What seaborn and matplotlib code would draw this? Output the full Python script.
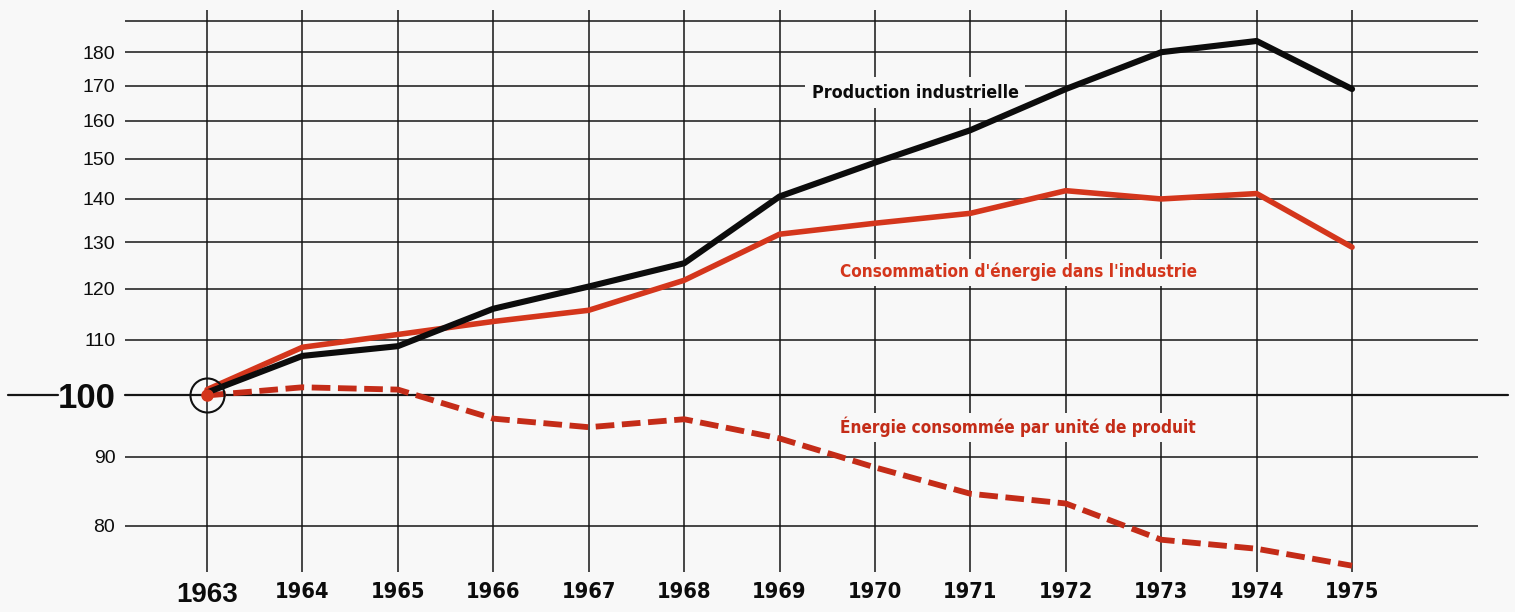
import numpy as np
import pandas as pd
import matplotlib
matplotlib.use("Agg")
import matplotlib.pyplot as plt
import matplotlib.transforms as mtransforms
from matplotlib import font_manager as fm
import seaborn as sns

years = [1963, 1964, 1965, 1966, 1967, 1968, 1969, 1970, 1971, 1972, 1973, 1974, 1975]
production = [100.5, 107.0, 108.8, 116.0, 120.5, 125.4, 140.6, 149.0, 157.5, 169.0, 180.0, 183.5, 169.0]
consommation = [101.0, 108.6, 111.0, 113.5, 115.7, 121.8, 131.8, 134.3, 136.6, 142.0, 140.0, 141.3, 128.9]
energie_unite = [100.0, 101.4, 101.0, 96.1, 94.7, 96.0, 92.9, 88.4, 84.5, 83.1, 78.1, 76.9, 74.7]
ytick_values = [80, 90, 100, 110, 120, 130, 140, 150, 160, 170, 180, 190]
ytick_labels = ["80", "90", "100", "110", "120", "130", "140", "150", "160", "170", "180", ""]
xtick_labels = [str(y) for y in years]
label_prod = "Production industrielle"
label_cons = "Consommation d'énergie dans l'industrie"
label_unit = "Énergie consommée par unité de produit"

df = pd.DataFrame({"year": years, "prod": production, "cons": consommation, "unit": energie_unite})

sns.set_style("white")
plt.rcParams['font.family'] = ['Liberation Sans', 'DejaVu Sans']

# choose a condensed family if one is installed
fonts = fm.fontManager.ttflist
names = {f.name for f in fonts}
if "Liberation Sans Narrow" in names:
    cond_props = dict(family=['Liberation Sans Narrow', 'DejaVu Sans'])
    scale = 1.0
elif any(f.name == "DejaVu Sans" and str(f.stretch) in ("condensed", "semi-condensed", "412", "500") for f in fonts):
    cond_props = dict(family=['DejaVu Sans'], fontstretch="condensed")
    scale = 0.95
else:
    cond_props = dict(family=['Liberation Sans', 'DejaVu Sans'])
    scale = 0.86

INK = "#0c0c0c"
RED = "#d4361c"
RED2 = "#c42c18"
BG = "#f8f8f8"

fig = plt.figure(figsize=(15.15, 6.12), dpi=100, facecolor=BG)
ax = fig.add_axes([125 / 1515, 1 - 572 / 612, 1353 / 1515, 562 / 612])
ax.set_facecolor(BG)
ax.set_yscale("log")
ax.set_xlim(1962.14, 1976.32)
ax.set_ylim(73.9, 193.5)

ax.set_yticks(ytick_values)
ax.set_yticklabels(ytick_labels)
ax.yaxis.set_minor_locator(matplotlib.ticker.NullLocator())
ax.set_xticks(years)
ax.set_xticklabels(xtick_labels)
for s in ax.spines.values():
    s.set_visible(False)
ax.tick_params(axis="both", length=0, labelcolor=INK)
ax.tick_params(axis="y", pad=7, labelsize=14)
ax.tick_params(axis="x", pad=7)
ax.grid(True, which="major", color="#151515", lw=1.1)
ax.set_axisbelow(True)

xl = ax.get_xticklabels()
for t in xl[1:]:
    t.set_fontfamily(cond_props["family"])
    if "fontstretch" in cond_props:
        t.set_fontstretch(cond_props["fontstretch"])
    t.set_fontweight("bold")
    t.set_fontsize(16.5 * scale)
xl[0].set_fontfamily(['Liberation Sans', 'DejaVu Sans'])
xl[0].set_fontweight("bold")
xl[0].set_fontsize(20)
for t in ax.get_yticklabels():
    if t.get_text() == "100":
        t.set_fontsize(25)
        t.set_fontweight("bold")

# the 100 reference line, extended
trans = mtransforms.blended_transform_factory(fig.transFigure, ax.transData)
ax.plot([125 / 1515, 1508 / 1515], [100, 100], transform=trans, color="#151515", lw=1.6, clip_on=False, zorder=1)
ax.plot([8 / 1515, 58 / 1515], [100, 100], transform=trans, color="#151515", lw=1.6, clip_on=False, zorder=1)

sns.lineplot(data=df, x="year", y="unit", ax=ax, color=RED2, lw=4.2, linestyle=(0, (3.2, 1.3)), zorder=3)
sns.lineplot(data=df, x="year", y="cons", ax=ax, color=RED, lw=4.0, zorder=4)
sns.lineplot(data=df, x="year", y="prod", ax=ax, color=INK, lw=4.4, zorder=5)
ax.set_xlabel("")
ax.set_ylabel("")

# origin marker
ax.plot([years[0]], [100], marker="o", ms=24.5, mfc="none", mec="#111111", mew=1.5, zorder=6, clip_on=False)
ax.plot([years[0]], [100], marker="o", ms=8, mfc=RED, mec=RED, zorder=7)

extra = {"fontstretch": cond_props["fontstretch"]} if "fontstretch" in cond_props else {}
ax.text(1970.42, 168.0, label_prod, ha="center", va="center", fontsize=13.5 * scale, fontweight="bold",
        family=cond_props["family"], color=INK, bbox=dict(facecolor=BG, edgecolor="none", pad=5),
        zorder=2, **extra)
ax.text(1971.5, 123.5, label_cons, ha="center", va="center", fontsize=13 * scale, fontweight="bold",
        family=cond_props["family"], color=RED, bbox=dict(facecolor=BG, edgecolor="none", pad=3),
        zorder=2, **extra)
ax.text(1971.5, 94.7, label_unit, ha="center", va="center", fontsize=13 * scale, fontweight="bold",
        family=cond_props["family"], color=RED2, bbox=dict(facecolor=BG, edgecolor="none", pad=3),
        zorder=2, **extra)

fig.savefig("out.png", dpi=100, facecolor=BG)
